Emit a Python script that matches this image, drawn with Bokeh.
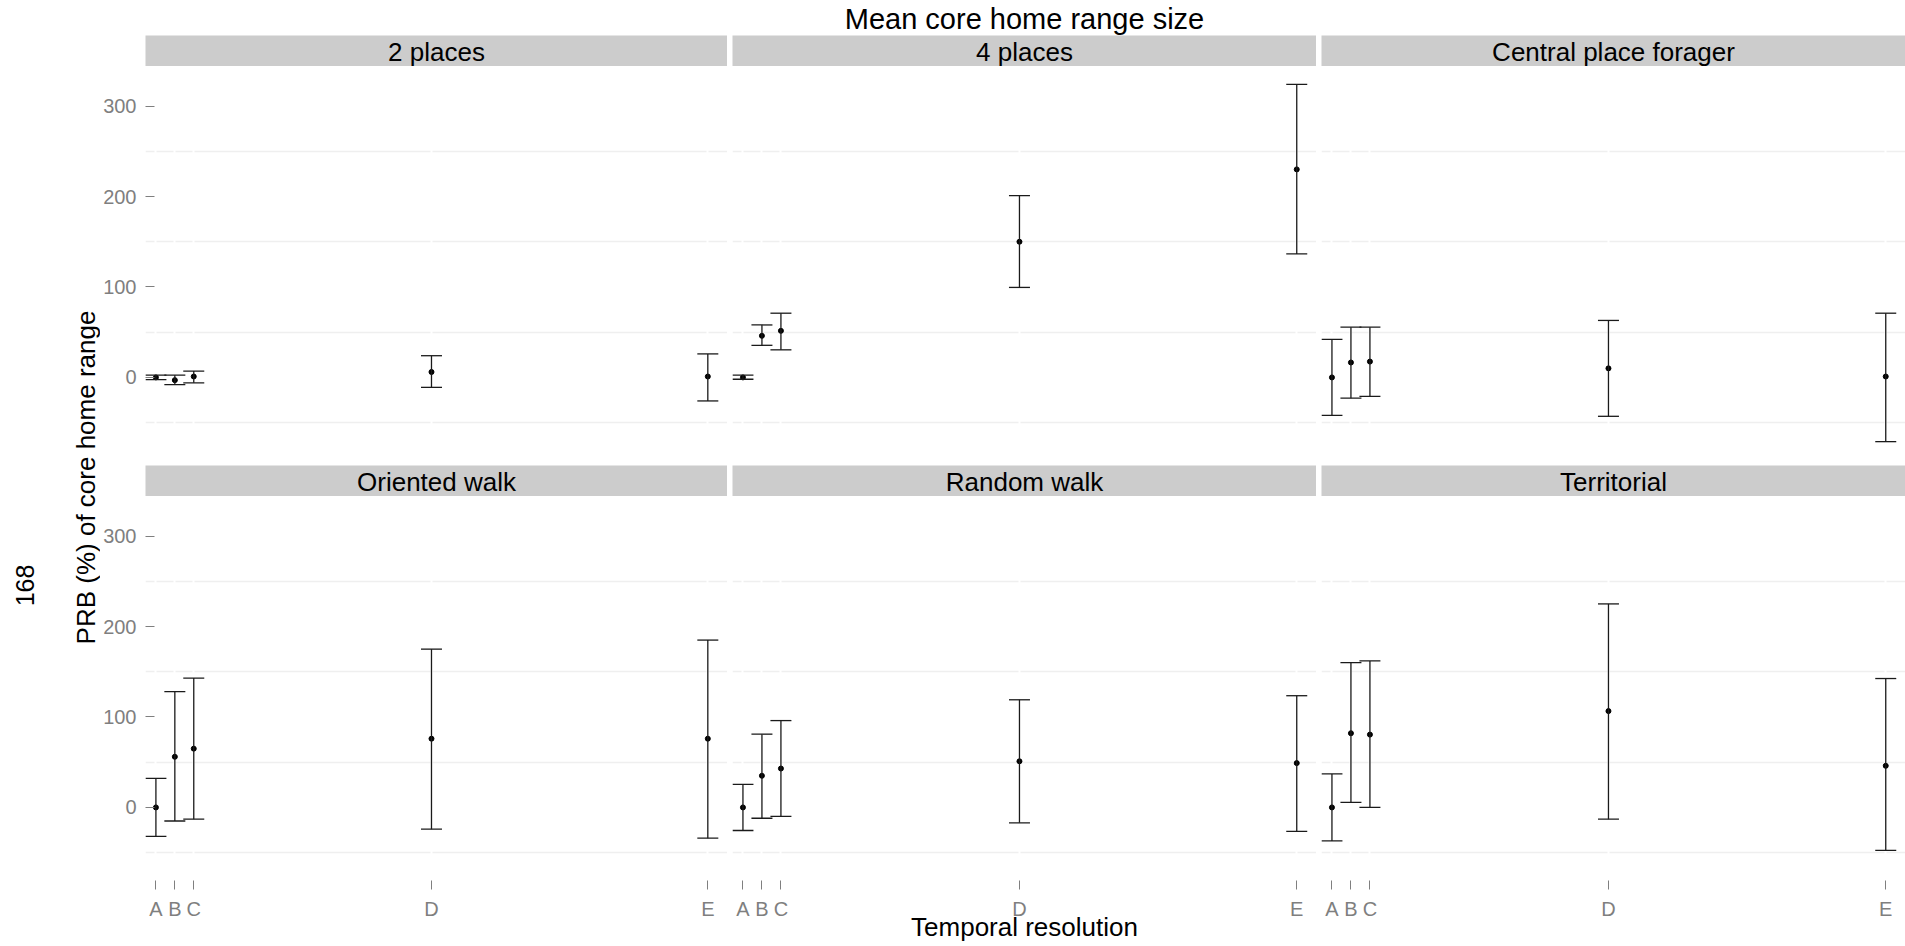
import math
from bokeh.plotting import figure
from bokeh.models import Range1d, FixedTicker, ColumnDataSource, Whisker, TeeHead, Label
from bokeh.layouts import row, column
from bokeh.embed import file_html
from bokeh.resources import INLINE

FONT = "Liberation Sans"

# ---------------- data ----------------
facet_names = ["2 places", "4 places", "Central place forager",
               "Oriented walk", "Random walk", "Territorial"]
res_labels = ["A", "B", "C", "D", "E"]
res_values = [1, 2, 3, 15.56, 30.16]
y_tick_values = [0, 100, 200, 300]
y_minor_values = [-50, 50, 150, 250]

mean_2_places = [0, -3, 1, 6, 1]
lower_2_places = [-2.5, -8, -6, -11, -26]
upper_2_places = [2.5, 2.5, 7, 24, 26]

mean_4_places = [0, 46, 51.5, 150, 230]
lower_4_places = [-2, 35.5, 30.5, 99.5, 136.5]
upper_4_places = [2.5, 58, 71, 201, 324]

mean_central = [0, 16.5, 17.5, 10, 1]
lower_central = [-42, -23, -21, -43, -71]
upper_central = [42, 55.5, 55.5, 63, 71]

mean_oriented = [0, 56, 65, 76, 76]
lower_oriented = [-32, -15, -13, -24, -34]
upper_oriented = [32, 128, 143, 175, 185]

mean_random = [0, 35, 43, 51, 49]
lower_random = [-25.5, -12, -10, -17, -26.5]
upper_random = [25.5, 81, 96, 119, 123.5]

mean_territorial = [0, 82, 80.5, 106.5, 46]
lower_territorial = [-37, 5.5, 0, -13, -47.5]
upper_territorial = [37, 160, 162, 225, 142.5]

series = [
    (mean_2_places, lower_2_places, upper_2_places),
    (mean_4_places, lower_4_places, upper_4_places),
    (mean_central, lower_central, upper_central),
    (mean_oriented, lower_oriented, upper_oriented),
    (mean_random, lower_random, upper_random),
    (mean_territorial, lower_territorial, upper_territorial),
]

# shared scales (ggplot-like 5% expansion on y)
all_lo = min(min(s[1]) for s in series)
all_hi = max(max(s[2]) for s in series)
span = all_hi - all_lo
Y_LO = all_lo - 0.05 * span
Y_HI = all_hi + 0.05 * span
X_LO, X_HI = 0.45, 31.2

# ---------------- layout constants ----------------
TOTAL_W = 1905
GUTTER_W = 100
FRAME_W = 584
COL_LEFT = [43, 5, 5]
TITLE_H = 35
STRIP_H = 31
PANEL_H = 393
GAP = 6
BOTTOM_BORDER = 57
BODY_H = STRIP_H + PANEL_H + GAP + STRIP_H + PANEL_H + BOTTOM_BORDER

GREY_TXT = "#7f7f7f"
BAR_COL = "#1a1a1a"


def blank(width, height, xr, yr):
    p = figure(width=width, height=height, x_range=Range1d(*xr), y_range=Range1d(*yr),
               output_backend="svg", toolbar_location=None,
               x_axis_location=None, y_axis_location=None,
               min_border_left=0, min_border_right=0, min_border_top=0, min_border_bottom=0)
    p.outline_line_color = None
    p.xgrid.visible = False
    p.ygrid.visible = False
    p.background_fill_color = "white"
    p.border_fill_color = "white"
    return p


def make_strip(i):
    r, c = divmod(i, 3)
    top = 0 if r == 0 else GAP
    p = figure(width=COL_LEFT[c] + FRAME_W, height=top + STRIP_H,
               x_range=Range1d(0, 1), y_range=Range1d(0, 1),
               output_backend="svg", toolbar_location=None,
               x_axis_location=None, y_axis_location=None,
               min_border_left=COL_LEFT[c], min_border_right=0,
               min_border_top=top, min_border_bottom=0)
    p.background_fill_color = "#cccccc"
    p.border_fill_color = "white"
    p.outline_line_color = None
    p.xgrid.visible = False
    p.ygrid.visible = False
    p.add_layout(Label(x=0.5, y=0.47, text=facet_names[i],
                       text_align="center", text_baseline="middle",
                       text_font=FONT, text_font_size="26px", text_color="black"))
    return p


def style_axis(ax, standoff):
    ax.axis_line_color = None
    ax.major_tick_in = 9
    ax.major_tick_out = 0
    ax.minor_tick_in = 0
    ax.minor_tick_out = 0
    ax.major_tick_line_color = GREY_TXT
    ax.major_label_text_font = FONT
    ax.major_label_text_font_size = "20px"
    ax.major_label_text_color = GREY_TXT
    ax.major_label_standoff = standoff


def make_panel(i):
    r, c = divmod(i, 3)
    bottom = BOTTOM_BORDER if r == 1 else 0
    p = figure(width=COL_LEFT[c] + FRAME_W, height=PANEL_H + bottom,
               x_range=Range1d(X_LO, X_HI), y_range=Range1d(Y_LO, Y_HI),
               output_backend="svg", toolbar_location=None,
               x_axis_location="below" if r == 1 else None,
               y_axis_location="left" if c == 0 else None,
               min_border_left=COL_LEFT[c], min_border_right=0,
               min_border_top=0, min_border_bottom=bottom)
    p.background_fill_color = "white"
    p.border_fill_color = "white"
    p.outline_line_color = None

    xg = p.xgrid[0]
    yg = p.ygrid[0]
    yg.ticker = FixedTicker(ticks=y_tick_values, minor_ticks=y_minor_values)
    yg.grid_line_color = None
    yg.minor_grid_line_color = "#efefef"
    yg.minor_grid_line_width = 1.3
    xg.ticker = FixedTicker(ticks=res_values)
    xg.grid_line_color = "white"
    xg.grid_line_width = 2
    p.center = [yg, xg]

    if c == 0:
        ax = p.yaxis[0]
        ax.ticker = FixedTicker(ticks=y_tick_values)
        style_axis(ax, 9)
        ax.major_label_text_align = "right"
        ax.major_label_text_baseline = "middle"
    if r == 1:
        ax = p.xaxis[0]
        ax.ticker = FixedTicker(ticks=res_values)
        ax.major_label_overrides = {v: lab for v, lab in zip(res_values, res_labels)}
        style_axis(ax, 8)
        ax.major_label_text_align = "center"
        ax.major_label_text_baseline = "top"
        if c == 1:
            ax.axis_label = "Temporal resolution"
            ax.axis_label_text_font = FONT
            ax.axis_label_text_font_size = "26px"
            ax.axis_label_text_font_style = "normal"
            ax.axis_label_text_color = "black"
            ax.axis_label_standoff = -11

    m, lo, hi = series[i]
    src = ColumnDataSource(dict(x=res_values, mean=m, lower=lo, upper=hi))
    w = Whisker(base="x", lower="lower", upper="upper", source=src, dimension="height",
                line_color=BAR_COL, line_width=1.3,
                upper_head=TeeHead(size=21, line_color=BAR_COL, line_width=1.3),
                lower_head=TeeHead(size=21, line_color=BAR_COL, line_width=1.3))
    w.level = "glyph"
    p.add_layout(w)
    p.scatter("x", "mean", source=src, size=5, color="black")
    return p


# overall title
title_fig = blank(TOTAL_W, TITLE_H, (0, TOTAL_W), (0, TITLE_H))
title_fig.add_layout(Label(x=1024, y=TITLE_H - 18.9, text="Mean core home range size",
                           text_align="center", text_baseline="middle",
                           text_font=FONT, text_font_size="29px", text_color="black"))

# left gutter with the y-axis title and the rotated page number
gutter = blank(GUTTER_W, BODY_H, (0, GUTTER_W), (0, BODY_H))
gutter.add_layout(Label(x=85, y=946 - 477, text="PRB (%) of core home range",
                        angle=math.pi / 2, text_align="center", text_baseline="middle",
                        text_font=FONT, text_font_size="26px", text_color="black"))
gutter.add_layout(Label(x=24, y=946 - 585, text="168",
                        angle=math.pi / 2, text_align="center", text_baseline="middle",
                        text_font=FONT, text_font_size="25px", text_color="black"))

cols = []
for c in range(3):
    cols.append(column(make_strip(c), make_panel(c), make_strip(c + 3), make_panel(c + 3)))

layout = column(title_fig, row(gutter, *cols))

open("out.html", "w").write(file_html(layout, INLINE))
